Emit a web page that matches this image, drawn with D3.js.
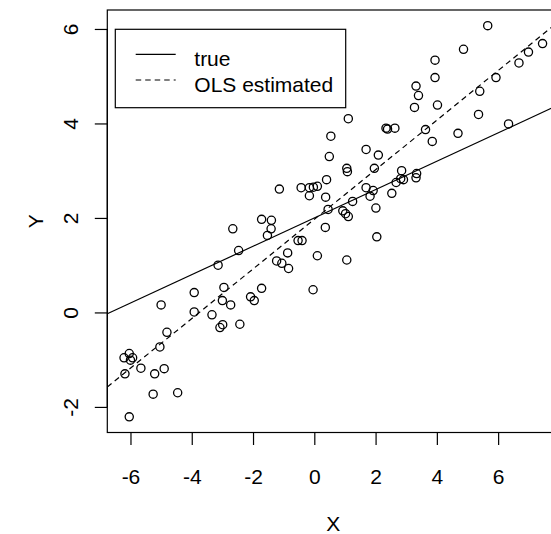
<!DOCTYPE html>
<html>
<head>
<meta charset="utf-8">
<script src="https://cdn.jsdelivr.net/npm/d3@7"></script>
<style>
  html, body { margin: 0; padding: 0; background: #fff; }
  svg { display: block; font-family: "Liberation Sans", Arial, Helvetica, sans-serif; }
</style>
</head>
<body>
<script>
// Simulated sample: regressor X and response Y
const xValues = [
  5.66, 4.87, 3.94, 3.94, 3.32, 3.40, 3.27, 4.02, 7.45, 6.99,
  6.68, 5.93, 5.40, 5.36, 6.34, 1.11, 0.54, 0.49, 1.69, 2.09,
  2.34, 2.39, 2.63, 3.63, 3.85, 4.69, 1.06, 1.08, 1.96, 2.85,
  3.34, 3.32, 2.82, 2.91, 2.67, 0.40, -1.14, -0.43, -0.16, -0.03,
  0.10, -0.16, 0.37, 1.69, 1.92, 1.82, 2.53, 1.25, 0.45, 0.93,
  1.02, 1.11, 2.01, 0.36, 2.04, -0.53, -0.40, -0.87, 0.10, 1.06,
  -1.06, -0.84, -1.23, -0.04, -1.72, -1.40, -1.41, -1.53, -2.66, -2.47,
  -3.14, -3.92, -2.95, -1.72, -2.08, -1.96, -3.00, -2.73, -5.00, -3.92,
  -3.34, -3.08, -2.99, -2.43, -4.81, -5.04, -6.04, -6.21, -5.93, -6.00,
  -6.18, -5.66, -5.21, -4.90, -5.26, -4.46, -6.04
];
const yValues = [
  6.07, 5.57, 5.34, 4.97, 4.79, 4.59, 4.34, 4.39, 5.69, 5.51,
  5.28, 4.97, 4.68, 4.19, 3.99, 4.10, 3.73, 3.30, 3.45, 3.33,
  3.90, 3.88, 3.90, 3.87, 3.62, 3.79, 3.05, 2.98, 3.05, 3.00,
  2.94, 2.85, 2.83, 2.81, 2.75, 2.81, 2.61, 2.64, 2.64, 2.65,
  2.67, 2.47, 2.44, 2.64, 2.58, 2.46, 2.52, 2.35, 2.18, 2.15,
  2.09, 2.03, 2.21, 1.80, 1.60, 1.52, 1.52, 1.26, 1.20, 1.11,
  1.04, 0.93, 1.09, 0.48, 1.97, 1.95, 1.77, 1.63, 1.77, 1.31,
  1.00, 0.42, 0.53, 0.51, 0.33, 0.25, 0.25, 0.16, 0.16, 0.01,
  -0.05, -0.32, -0.26, -0.25, -0.42, -0.73, -0.87, -0.96, -0.96, -1.01,
  -1.30, -1.18, -1.30, -1.19, -1.73, -1.70, -2.21
];

// Regression lines: [intercept, slope]
const trueLine = [2.0, 0.30];
const olsLine = [1.97, 0.525];

const xTicks = [-6, -4, -2, 0, 2, 4, 6];
const yTicks = [-2, 0, 2, 4, 6];
const legendLabels = ["true", "OLS estimated"];
const axisTitles = { x: "X", y: "Y" };

const W = 551, H = 534;
const box = { left: 107.3, right: 559.3, top: 10, bottom: 432.5 };
const FS = 21;
const LW = 1.2;
const DASH = "5.5,4";

// Pad the data range by 4% on each side
function padded(vals) {
  const [lo, hi] = d3.extent(vals);
  const p = (hi - lo) * 0.04;
  return [lo - p, hi + p];
}

const x = d3.scaleLinear().domain(padded(xValues)).range([box.left, box.right]);
const y = d3.scaleLinear().domain(padded(yValues)).range([box.bottom, box.top]);

const svg = d3.select("body").append("svg").attr("width", W).attr("height", H);

const clipId = "plot-clip";
svg.append("clipPath").attr("id", clipId)
  .append("rect")
  .attr("x", box.left).attr("y", box.top)
  .attr("width", box.right - box.left).attr("height", box.bottom - box.top);

// Points
svg.append("g")
  .selectAll("circle")
  .data(d3.range(xValues.length))
  .join("circle")
  .attr("cx", i => x(xValues[i]))
  .attr("cy", i => y(yValues[i]))
  .attr("r", 4.1)
  .attr("fill", "none")
  .attr("stroke", "#000")
  .attr("stroke-width", 1.3);

// Lines across the full plotting region
const [x0, x1] = x.domain();
const lineG = svg.append("g").attr("clip-path", `url(#${clipId})`);
function drawLine([a, b], dash) {
  lineG.append("line")
    .attr("x1", x(x0)).attr("y1", y(a + b * x0))
    .attr("x2", x(x1)).attr("y2", y(a + b * x1))
    .attr("stroke", "#000")
    .attr("stroke-width", LW)
    .attr("stroke-dasharray", dash);
}
drawLine(trueLine, null);
drawLine(olsLine, DASH);

// Plot frame
svg.append("rect")
  .attr("x", box.left).attr("y", box.top)
  .attr("width", box.right - box.left).attr("height", box.bottom - box.top)
  .attr("fill", "none").attr("stroke", "#000").attr("stroke-width", LW);

// X axis
const xAxis = svg.append("g")
  .attr("transform", `translate(0,${box.bottom})`)
  .call(d3.axisBottom(x).tickValues(xTicks).tickFormat(d3.format("d")).tickSizeOuter(0).tickSizeInner(12.5).tickPadding(24));
xAxis.select(".domain").attr("d", `M${x(xTicks[0])},0H${x(xTicks[xTicks.length - 1])}`)
  .attr("stroke-width", LW);
xAxis.selectAll(".tick line").attr("stroke-width", LW);
xAxis.selectAll(".tick text")
  .attr("font-size", FS).attr("font-family", "Liberation Sans, Arial, sans-serif")
  .attr("dy", null).attr("y", 51.5).attr("fill", "#000")
  .text(d => d < 0 ? "-" + Math.abs(d) : d);

// Y axis (labels rotated, reading upward)
const yAxis = svg.append("g")
  .attr("transform", `translate(${box.left},0)`)
  .call(d3.axisLeft(y).tickValues(yTicks).tickFormat(d3.format("d")).tickSizeOuter(0).tickSizeInner(12.5));
yAxis.select(".domain").attr("d", `M0,${y(yTicks[0])}V${y(yTicks[yTicks.length - 1])}`)
  .attr("stroke-width", LW);
yAxis.selectAll(".tick line").attr("stroke-width", LW);
yAxis.selectAll(".tick text")
  .attr("font-size", FS).attr("font-family", "Liberation Sans, Arial, sans-serif")
  .attr("fill", "#000")
  .attr("x", null).attr("dy", null)
  .attr("text-anchor", "middle")
  .attr("transform", "translate(-29,0) rotate(-90)")
  .text(d => d < 0 ? "-" + Math.abs(d) : d);

// Axis titles
svg.append("text")
  .attr("x", (box.left + box.right) / 2).attr("y", 530.5)
  .attr("text-anchor", "middle").attr("font-size", FS)
  .text(axisTitles.x);
svg.append("text")
  .attr("transform", `translate(43.3,${(box.top + box.bottom) / 2}) rotate(-90)`)
  .attr("text-anchor", "middle").attr("font-size", FS)
  .text(axisTitles.y);

// Legend
const leg = svg.append("g");
leg.append("rect")
  .attr("x", 115.3).attr("y", 29.3).attr("width", 230.4).attr("height", 78.4)
  .attr("fill", "#fff").attr("stroke", "#000").attr("stroke-width", LW);
[[54.3, null], [80, DASH]].forEach(([ly, dash], i) => {
  leg.append("line")
    .attr("x1", 135.7).attr("x2", 175.7).attr("y1", ly).attr("y2", ly)
    .attr("stroke", "#000").attr("stroke-width", LW)
    .attr("stroke-dasharray", dash);
  leg.append("text")
    .attr("x", 194.3).attr("y", ly + 11.6)
    .attr("font-size", FS)
    .text(legendLabels[i]);
});
</script>
</body>
</html>
